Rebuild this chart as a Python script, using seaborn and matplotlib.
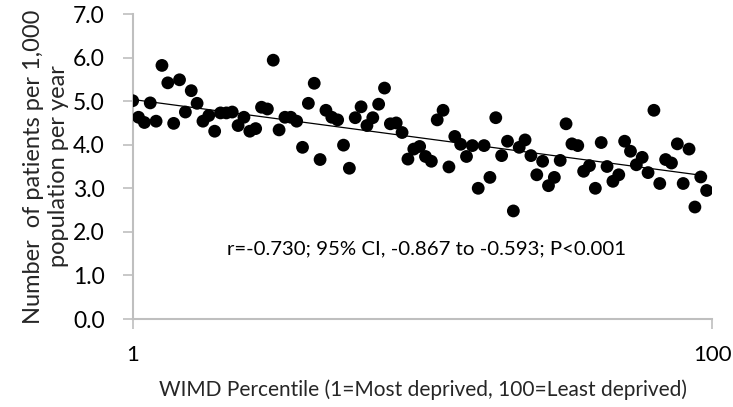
import matplotlib
matplotlib.use("Agg")
import matplotlib.pyplot as plt
import seaborn as sns
import numpy as np
import pandas as pd

percentile = [1, 2, 3, 4, 5, 6, 7, 8, 9, 10, 11, 12, 13, 14, 15, 16, 17, 18, 19, 20,
              21, 22, 23, 24, 25, 26, 27, 28, 29, 30, 31, 32, 33, 34, 35, 36, 37, 38, 39, 40,
              41, 42, 43, 44, 45, 46, 47, 48, 49, 50, 51, 52, 53, 54, 55, 56, 57, 58, 59, 60,
              61, 62, 63, 64, 65, 66, 67, 68, 69, 70, 71, 72, 73, 74, 75, 76, 77, 78, 79, 80,
              81, 82, 83, 84, 85, 86, 87, 88, 89, 90, 91, 92, 93, 94, 95, 96, 97, 98, 99]
patients = [5.01, 4.63, 4.51, 4.96, 4.54, 5.82, 5.42, 4.49, 5.49, 4.75,
            5.24, 4.95, 4.54, 4.67, 4.31, 4.73, 4.73, 4.75, 4.44, 4.63,
            4.31, 4.37, 4.86, 4.82, 5.94, 4.34, 4.63, 4.63, 4.54, 3.94,
            4.95, 5.41, 3.66, 4.79, 4.63, 4.57, 3.99, 3.46, 4.62, 4.87,
            4.44, 4.62, 4.93, 5.30, 4.48, 4.50, 4.28, 3.67, 3.90, 3.96,
            3.73, 3.62, 4.57, 4.79, 3.49, 4.19, 4.01, 3.73, 3.98, 3.00,
            3.98, 3.25, 4.62, 3.75, 4.08, 2.48, 3.94, 4.11, 3.75, 3.31,
            3.62, 3.06, 3.25, 3.64, 4.48, 4.02, 3.98, 3.39, 3.52, 3.00,
            4.05, 3.50, 3.16, 3.31, 4.08, 3.85, 3.54, 3.71, 3.36, 4.79,
            3.11, 3.66, 3.58, 4.02, 3.11, 3.90, 2.57, 3.26, 2.95]

y_ticks = [0.0, 1.0, 2.0, 3.0, 4.0, 5.0, 6.0, 7.0]
x_ticks = [1, 100]
annotation = "r=-0.730; 95% CI, -0.867 to -0.593; P<0.001"
x_label = "WIMD Percentile (1=Most deprived, 100=Least deprived)"
y_label = "Number  of patients per 1,000\npopulation per year"

df = pd.DataFrame({"percentile": percentile, "patients": patients})

sns.set_theme(style="white")
plt.rcParams["font.family"] = ["Lato", "DejaVu Sans"]

fig = plt.figure(figsize=(7.33, 4.07), dpi=100)
ax = fig.add_axes([0.181, 0.2162, 0.972 - 0.181, 0.9656 - 0.2162])

sns.regplot(data=df, x="percentile", y="patients", ax=ax, ci=None,
            scatter_kws=dict(s=85, color="black", edgecolor="none", alpha=1, zorder=3),
            line_kws=dict(color="black", lw=0.9, zorder=2))

ax.set_xlim(1, 100)
ax.set_ylim(0, 7)
ax.set_xticks(x_ticks)
ax.set_xticklabels([str(v) for v in x_ticks], fontsize=16)
ax.set_yticks(y_ticks)
ax.set_yticklabels([f"{v:.1f}" for v in y_ticks], fontsize=16.5)
ax.set_xlabel(x_label, fontsize=15, labelpad=10)
ax.set_ylabel(y_label, fontsize=17, labelpad=3, linespacing=1.25)

for s in ["top", "right"]:
    ax.spines[s].set_visible(False)
for s in ["left", "bottom"]:
    ax.spines[s].set_color("#bfbfbf")
    ax.spines[s].set_linewidth(1.5)
ax.tick_params(axis="both", which="major", direction="out", length=7, width=1.2,
               color="#bfbfbf", labelcolor="black", left=True, bottom=True)
ax.tick_params(axis="y", pad=13)
ax.tick_params(axis="x", pad=12)

ax.text(0.507, 0.2295, annotation, transform=ax.transAxes, ha="center", va="center",
        fontsize=14.7, color="black")

fig.savefig("out.png", dpi=100)
